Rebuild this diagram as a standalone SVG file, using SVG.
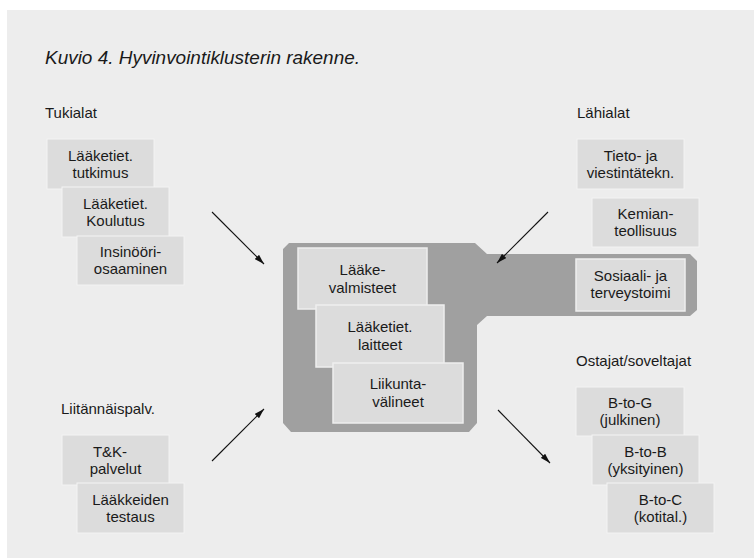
<svg xmlns="http://www.w3.org/2000/svg" width="754" height="558" viewBox="0 0 754 558">
<defs>
<marker id="ah" viewBox="0 0 10 6" refX="10" refY="3" markerWidth="10" markerHeight="6" markerUnits="userSpaceOnUse" orient="auto">
<path d="M0,0 L10,3 L0,6 Z" fill="#111"/>
</marker>
</defs>
<style>
.bg{fill:#ededed}
.box{fill:#dcdcdc;stroke:#f3f3f3;stroke-width:1}
.ibox{fill:#dcdcdc;stroke:#eeeeee;stroke-width:1.5}
.core{fill:#a0a0a0}
text{font-family:"Liberation Sans",Arial,sans-serif;font-size:15px;fill:#1a1a1a}
.t{text-anchor:middle}
.title{font-style:italic;font-size:17.5px}
.arr{stroke:#111;stroke-width:1.1;fill:none;marker-end:url(#ah)}
</style>
<rect class="bg" x="7" y="10" width="747" height="548"/>
<text class="title" x="45" y="64" textLength="315" lengthAdjust="spacingAndGlyphs">Kuvio 4. Hyvinvointiklusterin rakenne.</text>
<text x="45" y="118">Tukialat</text>
<text x="577" y="118">Lähialat</text>
<text x="61" y="414">Liitännäispalv.</text>
<text x="576" y="366">Ostajat/soveltajat</text>

<g id="core">
<path class="core" d="M283,249 L289,243 L475,243 L487,254 L690,254 L697,261 L697,310 L690,316 L487,316 L477,325 L477,423 L469,432 L291,432 L283,423 Z"/>
</g>

<g id="n-tutkimus"><rect class="box" x="47" y="139" width="107" height="50"/><text class="t" x="100.5" y="161">Lääketiet.</text><text class="t" x="100.5" y="178">tutkimus</text></g>
<g id="n-koulutus"><rect class="box" x="62" y="187" width="107" height="50"/><text class="t" x="115.5" y="209">Lääketiet.</text><text class="t" x="115.5" y="226">Koulutus</text></g>
<g id="n-insinoori"><rect class="box" x="77" y="236" width="107" height="49"/><text class="t" x="130.5" y="257">Insinööri-</text><text class="t" x="130.5" y="274">osaaminen</text></g>

<g id="n-tieto"><rect class="box" x="577" y="139" width="107" height="50"/><text class="t" x="630.5" y="161">Tieto- ja</text><text class="t" x="630.5" y="178">viestintätekn.</text></g>
<g id="n-kemian"><rect class="box" x="592" y="198" width="107" height="49"/><text class="t" x="645.5" y="219">Kemian-</text><text class="t" x="645.5" y="236">teollisuus</text></g>

<g id="n-sosiaali"><rect class="ibox" x="576" y="259" width="109" height="52"/><text class="t" x="630.5" y="281">Sosiaali- ja</text><text class="t" x="630.5" y="298">terveystoimi</text></g>
<g id="n-laake"><rect class="ibox" x="298" y="248" width="129" height="61"/><text class="t" x="362.5" y="275">Lääke-</text><text class="t" x="362.5" y="292.5">valmisteet</text></g>
<g id="n-laitteet"><rect class="ibox" x="316" y="305" width="128" height="62"/><text class="t" x="380" y="332">Lääketiet.</text><text class="t" x="380" y="349.5">laitteet</text></g>
<g id="n-liikunta"><rect class="ibox" x="333" y="363" width="130" height="60"/><text class="t" x="398" y="389">Liikunta-</text><text class="t" x="398" y="406.5">välineet</text></g>

<g id="n-tk"><rect class="box" x="62" y="435" width="107" height="50"/><text class="t" x="110" y="457">T&amp;K-</text><text class="t" x="115.5" y="474">palvelut</text></g>
<g id="n-testaus"><rect class="box" x="77" y="483" width="107" height="50"/><text class="t" x="130.5" y="505">Lääkkeiden</text><text class="t" x="130.5" y="522">testaus</text></g>

<g id="n-btog"><rect class="box" x="576" y="387" width="108" height="49"/><text class="t" x="630" y="408">B-to-G</text><text class="t" x="630" y="425">(julkinen)</text></g>
<g id="n-btob"><rect class="box" x="592" y="435" width="107" height="50"/><text class="t" x="645.5" y="457">B-to-B</text><text class="t" x="645.5" y="474">(yksityinen)</text></g>
<g id="n-btoc"><rect class="box" x="607" y="483" width="107" height="50"/><text class="t" x="660.5" y="505">B-to-C</text><text class="t" x="660.5" y="522">(kotital.)</text></g>

<g id="connectors">
<line class="arr" x1="212" y1="212" x2="264" y2="264"/>
<line class="arr" x1="548" y1="212" x2="497" y2="263"/>
<line class="arr" x1="212" y1="461" x2="264" y2="409"/>
<line class="arr" x1="498" y1="410" x2="550" y2="463"/>
</g>
</svg>
